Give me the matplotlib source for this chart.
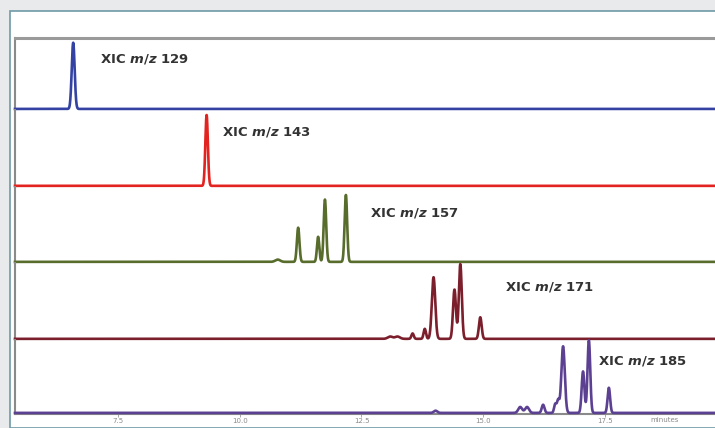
import numpy as np
import matplotlib
matplotlib.use("Agg")
import matplotlib.pyplot as plt
from matplotlib.patches import Rectangle

plt.rcParams["mathtext.fontset"] = "custom"
plt.rcParams["mathtext.it"] = "DejaVu Sans:italic:bold"
plt.rcParams["mathtext.rm"] = "DejaVu Sans:bold"

# Retention window (minutes)
t_min, t_max = 5.385, 19.76
tick_values = [7.5, 10.0, 12.5, 15.0, 17.5]
tick_labels = ["7.5", "10.0", "12.5", "15.0", "17.5"]

# Extracted-ion chromatograms: peak apex times (min), relative heights, widths (min)
mz_labels = ["129", "143", "157", "171", "185"]
colors = ["#3342a3", "#e3231f", "#586c2c", "#7c1f2c", "#5c4192"]

peak_times_129 = [6.58]
peak_heights_129 = [0.92]
peak_widths_129 = [0.03]

peak_times_143 = [9.32]
peak_heights_143 = [0.92]
peak_widths_143 = [0.026]

peak_times_157 = [10.78, 11.20, 11.61, 11.75, 12.18]
peak_heights_157 = [0.03, 0.45, 0.33, 0.82, 0.88]
peak_widths_157 = [0.05, 0.026, 0.024, 0.026, 0.026]

peak_times_171 = [13.09, 13.24, 13.55, 13.80, 13.98, 14.41, 14.53, 14.94]
peak_heights_171 = [0.03, 0.03, 0.07, 0.13, 0.80, 0.64, 0.97, 0.28]
peak_widths_171 = [0.05, 0.05, 0.024, 0.024, 0.035, 0.03, 0.03, 0.028]

peak_times_185 = [14.02, 15.76, 15.90, 16.23, 16.48, 16.54, 16.64, 17.05, 17.17, 17.58]
peak_heights_185 = [0.03, 0.08, 0.08, 0.11, 0.12, 0.17, 0.90, 0.56, 0.98, 0.34]
peak_widths_185 = [0.035, 0.04, 0.04, 0.028, 0.024, 0.024, 0.035, 0.028, 0.028, 0.026]

traces = [
    (peak_times_129, peak_heights_129, peak_widths_129),
    (peak_times_143, peak_heights_143, peak_widths_143),
    (peak_times_157, peak_heights_157, peak_widths_157),
    (peak_times_171, peak_heights_171, peak_widths_171),
    (peak_times_185, peak_heights_185, peak_widths_185),
]

# Panel bounds in pixels (top, bottom) and label anchor (x px, y px)
panel_px = [(38, 110), (110, 187), (187, 263), (263, 340), (340, 414)]
label_px = [(100, 59), (222, 132), (370, 213), (505, 287), (598, 361)]

W, H = 715, 428
fig = plt.figure(figsize=(W / 100, H / 100), dpi=100)
fig.patch.set_facecolor("#e9eaec")

# White card with a thin teal border
card = Rectangle((10 / W, 0), 1.0, 1 - 11 / H, transform=fig.transFigure,
                 facecolor="white", edgecolor="#6e9aa8", linewidth=1.2, zorder=0)
fig.add_artist(card)

x = np.linspace(t_min, t_max, 6000)
baseline = 0.015
left = 15 / W
width = 1 - left

axes = []
for i, ((top, bot), (times, heights, widths)) in enumerate(zip(panel_px, traces)):
    ax = fig.add_axes([left, 1 - bot / H, width, (bot - top) / H])
    ax.set_facecolor("none")
    y = np.full_like(x, baseline)
    for t, h, s in zip(times, heights, widths):
        y += h * np.exp(-0.5 * ((x - t) / s) ** 2)
    ax.plot(x, y, color=colors[i], lw=1.9, solid_joinstyle="round",
            clip_on=False, zorder=3)
    ax.set_xlim(t_min, t_max)
    ax.set_ylim(0, 1)
    ax.set_yticks([])
    for side in ["right", "top", "bottom"]:
        ax.spines[side].set_visible(False)
    ax.spines["left"].set_color("#8a8a8a")
    ax.spines["left"].set_linewidth(1.5)
    if i == 0:
        ax.spines["top"].set_visible(True)
        ax.spines["top"].set_color("#9a9a9a")
        ax.spines["top"].set_linewidth(2.2)
    if i == len(traces) - 1:
        ax.spines["bottom"].set_visible(True)
        ax.spines["bottom"].set_color("#8a8a8a")
        ax.spines["bottom"].set_linewidth(1.5)
        ax.set_xticks(tick_values)
        ax.set_xticklabels(tick_labels)
        ax.tick_params(axis="x", length=2, width=0.6, color="#999999",
                       labelsize=5, labelcolor="#8a8a8a", pad=1)
        ax.text(18.73, -0.035, "minutes", transform=ax.get_xaxis_transform(),
                fontsize=5, color="#8a8a8a", ha="center", va="top")
    else:
        ax.set_xticks([])
    lx, ly = label_px[i]
    fig.text(lx / W, 1 - ly / H, r"XIC $m/z$ " + mz_labels[i],
             fontsize=9.5, fontweight="bold", color="#333333", ha="left", va="center")
    axes.append(ax)

fig.savefig("out.png", dpi=100, facecolor=fig.get_facecolor())
